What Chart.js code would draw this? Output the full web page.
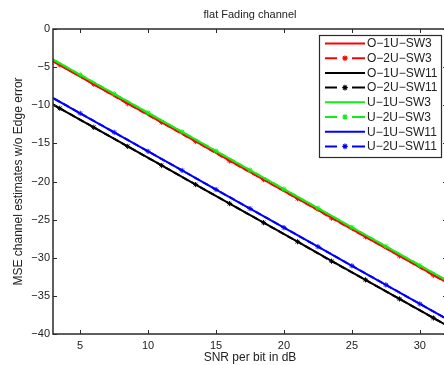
<!DOCTYPE html>
<html>
<head>
<meta charset="utf-8">
<script src="https://cdn.jsdelivr.net/npm/chart.js@4/dist/chart.umd.min.js"></script>
<style>
html,body{margin:0;padding:0;background:#fff;overflow:hidden;width:444px;height:365px;}
canvas{display:block;}
</style>
</head>
<body>
<canvas id="c" width="452" height="365"></canvas>
<script>
// ---- data ----
const titleText = 'flat Fading channel';
const xTitle = 'SNR per bit in dB';
const yTitle = 'MSE channel estimates w/o Edge error';
const xTicks = [5, 10, 15, 20, 25, 30];
const yTicks = [0, -5, -10, -15, -20, -25, -30, -35, -40];
const xMin = 3, xMax = 32, yMin = -40, yMax = 0;

// SNR grids (O-series markers at 3.5, 6, ...; U-series markers at 5, 7.5, ...)
const snrO = [1, 3.5, 6, 8.5, 11, 13.5, 16, 18.5, 21, 23.5, 26, 28.5, 31, 33.5];
const snrU = [2.5, 5, 7.5, 10, 12.5, 15, 17.5, 20, 22.5, 25, 27.5, 30, 32.5];

const o1uSW3  = [-2.3, -4.75, -7.25, -9.75, -12.25, -14.75, -17.25, -19.75, -22.25, -24.75, -27.25, -29.75, -32.25, -34.75];
const o2uSW3  = [-2.3, -4.7, -7.25, -9.8, -12.25, -14.75, -17.3, -19.75, -22.25, -24.8, -27.25, -29.75, -32.3, -34.75];
const o1uSW11 = [-7.9, -10.4, -12.9, -15.4, -17.9, -20.4, -22.9, -25.4, -27.9, -30.4, -32.9, -35.4, -37.9, -40.4];
const o2uSW11 = [-7.9, -10.4, -12.9, -15.4, -17.9, -20.4, -22.9, -25.4, -27.9, -30.45, -32.9, -35.4, -37.9, -40.4];
const u1uSW3  = [-3.5, -6.0, -8.5, -11.0, -13.5, -16.0, -18.5, -21.0, -23.5, -26.0, -28.5, -31.0, -33.5];
const u2uSW3  = [-3.5, -6.0, -8.5, -11.0, -13.5, -16.0, -18.5, -21.0, -23.5, -26.0, -28.5, -31.0, -33.5];
const u1uSW11 = [-8.55, -11.05, -13.55, -16.05, -18.55, -21.05, -23.55, -26.05, -28.55, -31.05, -33.55, -36.05, -38.55];
const u2uSW11 = [-8.55, -11.05, -13.55, -16.05, -18.55, -21.05, -23.55, -26.05, -28.55, -31.05, -33.55, -36.05, -38.55];

const seriesNames = ['O-1U-SW3','O-2U-SW3','O-1U-SW11','O-2U-SW11','U-1U-SW3','U-2U-SW3','U-1U-SW11','U-2U-SW11'];
const seriesColors = ['#ff0000','#ff0000','#000000','#000000','#11ee11','#11ee11','#0000ff','#0000ff'];
const seriesDashed = [false,true,false,true,false,true,false,true];
const seriesX = [snrO, snrO, snrO, snrO, snrU, snrU, snrU, snrU];
const seriesY = [o1uSW3, o2uSW3, o1uSW11, o2uSW11, u1uSW3, u2uSW3, u1uSW11, u2uSW11];

const minus = s => String(s).replace('-', '\u2212');
const FONT = "'Liberation Sans', Arial, sans-serif";
const TXT = '#222';

const datasets = seriesNames.map((name, i) => ({
  label: name,
  data: seriesX[i].map((x, k) => ({x: x, y: seriesY[i][k]})),
  borderColor: seriesColors[i],
  backgroundColor: seriesColors[i],
  borderWidth: 2,
  borderDash: seriesDashed[i] ? [6, 4] : [],
  pointStyle: 'star',
  pointRadius: seriesDashed[i] ? 2.6 : 0,
  pointBorderWidth: 1,
  pointBorderColor: seriesColors[i],
  tension: 0,
  order: 10 - i
}));

const framePlugin = {
  id: 'frame',
  afterDraw(chart) {
    const ctx = chart.ctx, a = chart.chartArea;
    const xs = chart.scales.x, ys = chart.scales.y;
    ctx.save();
    ctx.strokeStyle = '#2a2a2a';
    ctx.lineWidth = 1.5;
    ctx.strokeRect(a.left, a.top, a.right - a.left, a.bottom - a.top);
    ctx.lineWidth = 1;
    const tl = 4;
    ctx.beginPath();
    xTicks.forEach(v => {
      const px = Math.round(xs.getPixelForValue(v)) + 0.5;
      ctx.moveTo(px, a.bottom); ctx.lineTo(px, a.bottom - tl);
      ctx.moveTo(px, a.top); ctx.lineTo(px, a.top + tl);
    });
    yTicks.forEach(v => {
      const py = Math.round(ys.getPixelForValue(v)) + 0.5;
      ctx.moveTo(a.left, py); ctx.lineTo(a.left + tl, py);
      ctx.moveTo(a.right, py); ctx.lineTo(a.right - tl, py);
    });
    ctx.stroke();

    // title
    ctx.fillStyle = TXT;
    ctx.font = '11px ' + FONT;
    ctx.textAlign = 'center';
    ctx.textBaseline = 'middle';
    ctx.fillText(titleText, (a.left + a.right) / 2, 14.5);

    // legend
    const bx = 319, by = 35, bw = 122, bh = 122;
    ctx.fillStyle = '#fff';
    ctx.fillRect(bx, by, bw, bh);
    ctx.strokeStyle = '#2a2a2a';
    ctx.lineWidth = 1.2;
    ctx.strokeRect(bx + 0.5, by + 0.5, bw, bh);
    ctx.font = '12px ' + FONT;
    ctx.textAlign = 'left';
    seriesNames.forEach((name, i) => {
      const y = 43.5 + i * 14.7;
      ctx.strokeStyle = seriesColors[i];
      ctx.lineWidth = 2;
      ctx.beginPath();
      if (seriesDashed[i]) {
        ctx.moveTo(325, y); ctx.lineTo(337, y);
        ctx.moveTo(352, y); ctx.lineTo(365, y);
      } else {
        ctx.moveTo(325, y); ctx.lineTo(365, y);
      }
      ctx.stroke();
      if (seriesDashed[i]) {
        ctx.lineWidth = 1.2;
        ctx.beginPath();
        const r = 2.8;
        ctx.moveTo(345 - r, y); ctx.lineTo(345 + r, y);
        ctx.moveTo(345, y - r); ctx.lineTo(345, y + r);
        ctx.moveTo(345 - r * 0.7, y - r * 0.7); ctx.lineTo(345 + r * 0.7, y + r * 0.7);
        ctx.moveTo(345 - r * 0.7, y + r * 0.7); ctx.lineTo(345 + r * 0.7, y - r * 0.7);
        ctx.stroke();
      }
      ctx.fillStyle = TXT;
      ctx.fillText(name.replace(/-/g, '\u2212'), 367, y + 0.5);
    });
    ctx.restore();
  }
};

new Chart(document.getElementById('c'), {
  type: 'line',
  data: { datasets },
  options: {
    responsive: false,
    animation: false,
    events: [],
    layout: { padding: { top: 29, right: 5, left: 0, bottom: 0 } },
    plugins: { legend: { display: false }, tooltip: { enabled: false }, title: { display: false } },
    scales: {
      x: {
        type: 'linear', min: xMin, max: xMax,
        afterBuildTicks: s => { s.ticks = xTicks.map(v => ({ value: v })); },
        afterFit: s => { s.height = 31; },
        grid: { display: false, drawTicks: false },
        border: { display: false },
        ticks: { color: TXT, font: { family: FONT, size: 11 }, padding: 5, maxRotation: 0, autoSkip: false,
                 callback: v => minus(v) },
        title: { display: true, text: xTitle, color: TXT, font: { family: FONT, size: 12 }, padding: { top: 0, bottom: 0 } }
      },
      y: {
        type: 'linear', min: yMin, max: yMax,
        afterBuildTicks: s => { s.ticks = yTicks.map(v => ({ value: v })); },
        afterFit: s => { s.width = 53; },
        grid: { display: false, drawTicks: false },
        border: { display: false },
        ticks: { color: TXT, font: { family: FONT, size: 11 }, padding: 3, autoSkip: false,
                 callback: v => minus(v) },
        title: { display: true, text: yTitle, color: TXT, font: { family: FONT, size: 12 }, padding: { top: 11, bottom: 11 } }
      }
    }
  },
  plugins: [framePlugin]
});
</script>
</body>
</html>
